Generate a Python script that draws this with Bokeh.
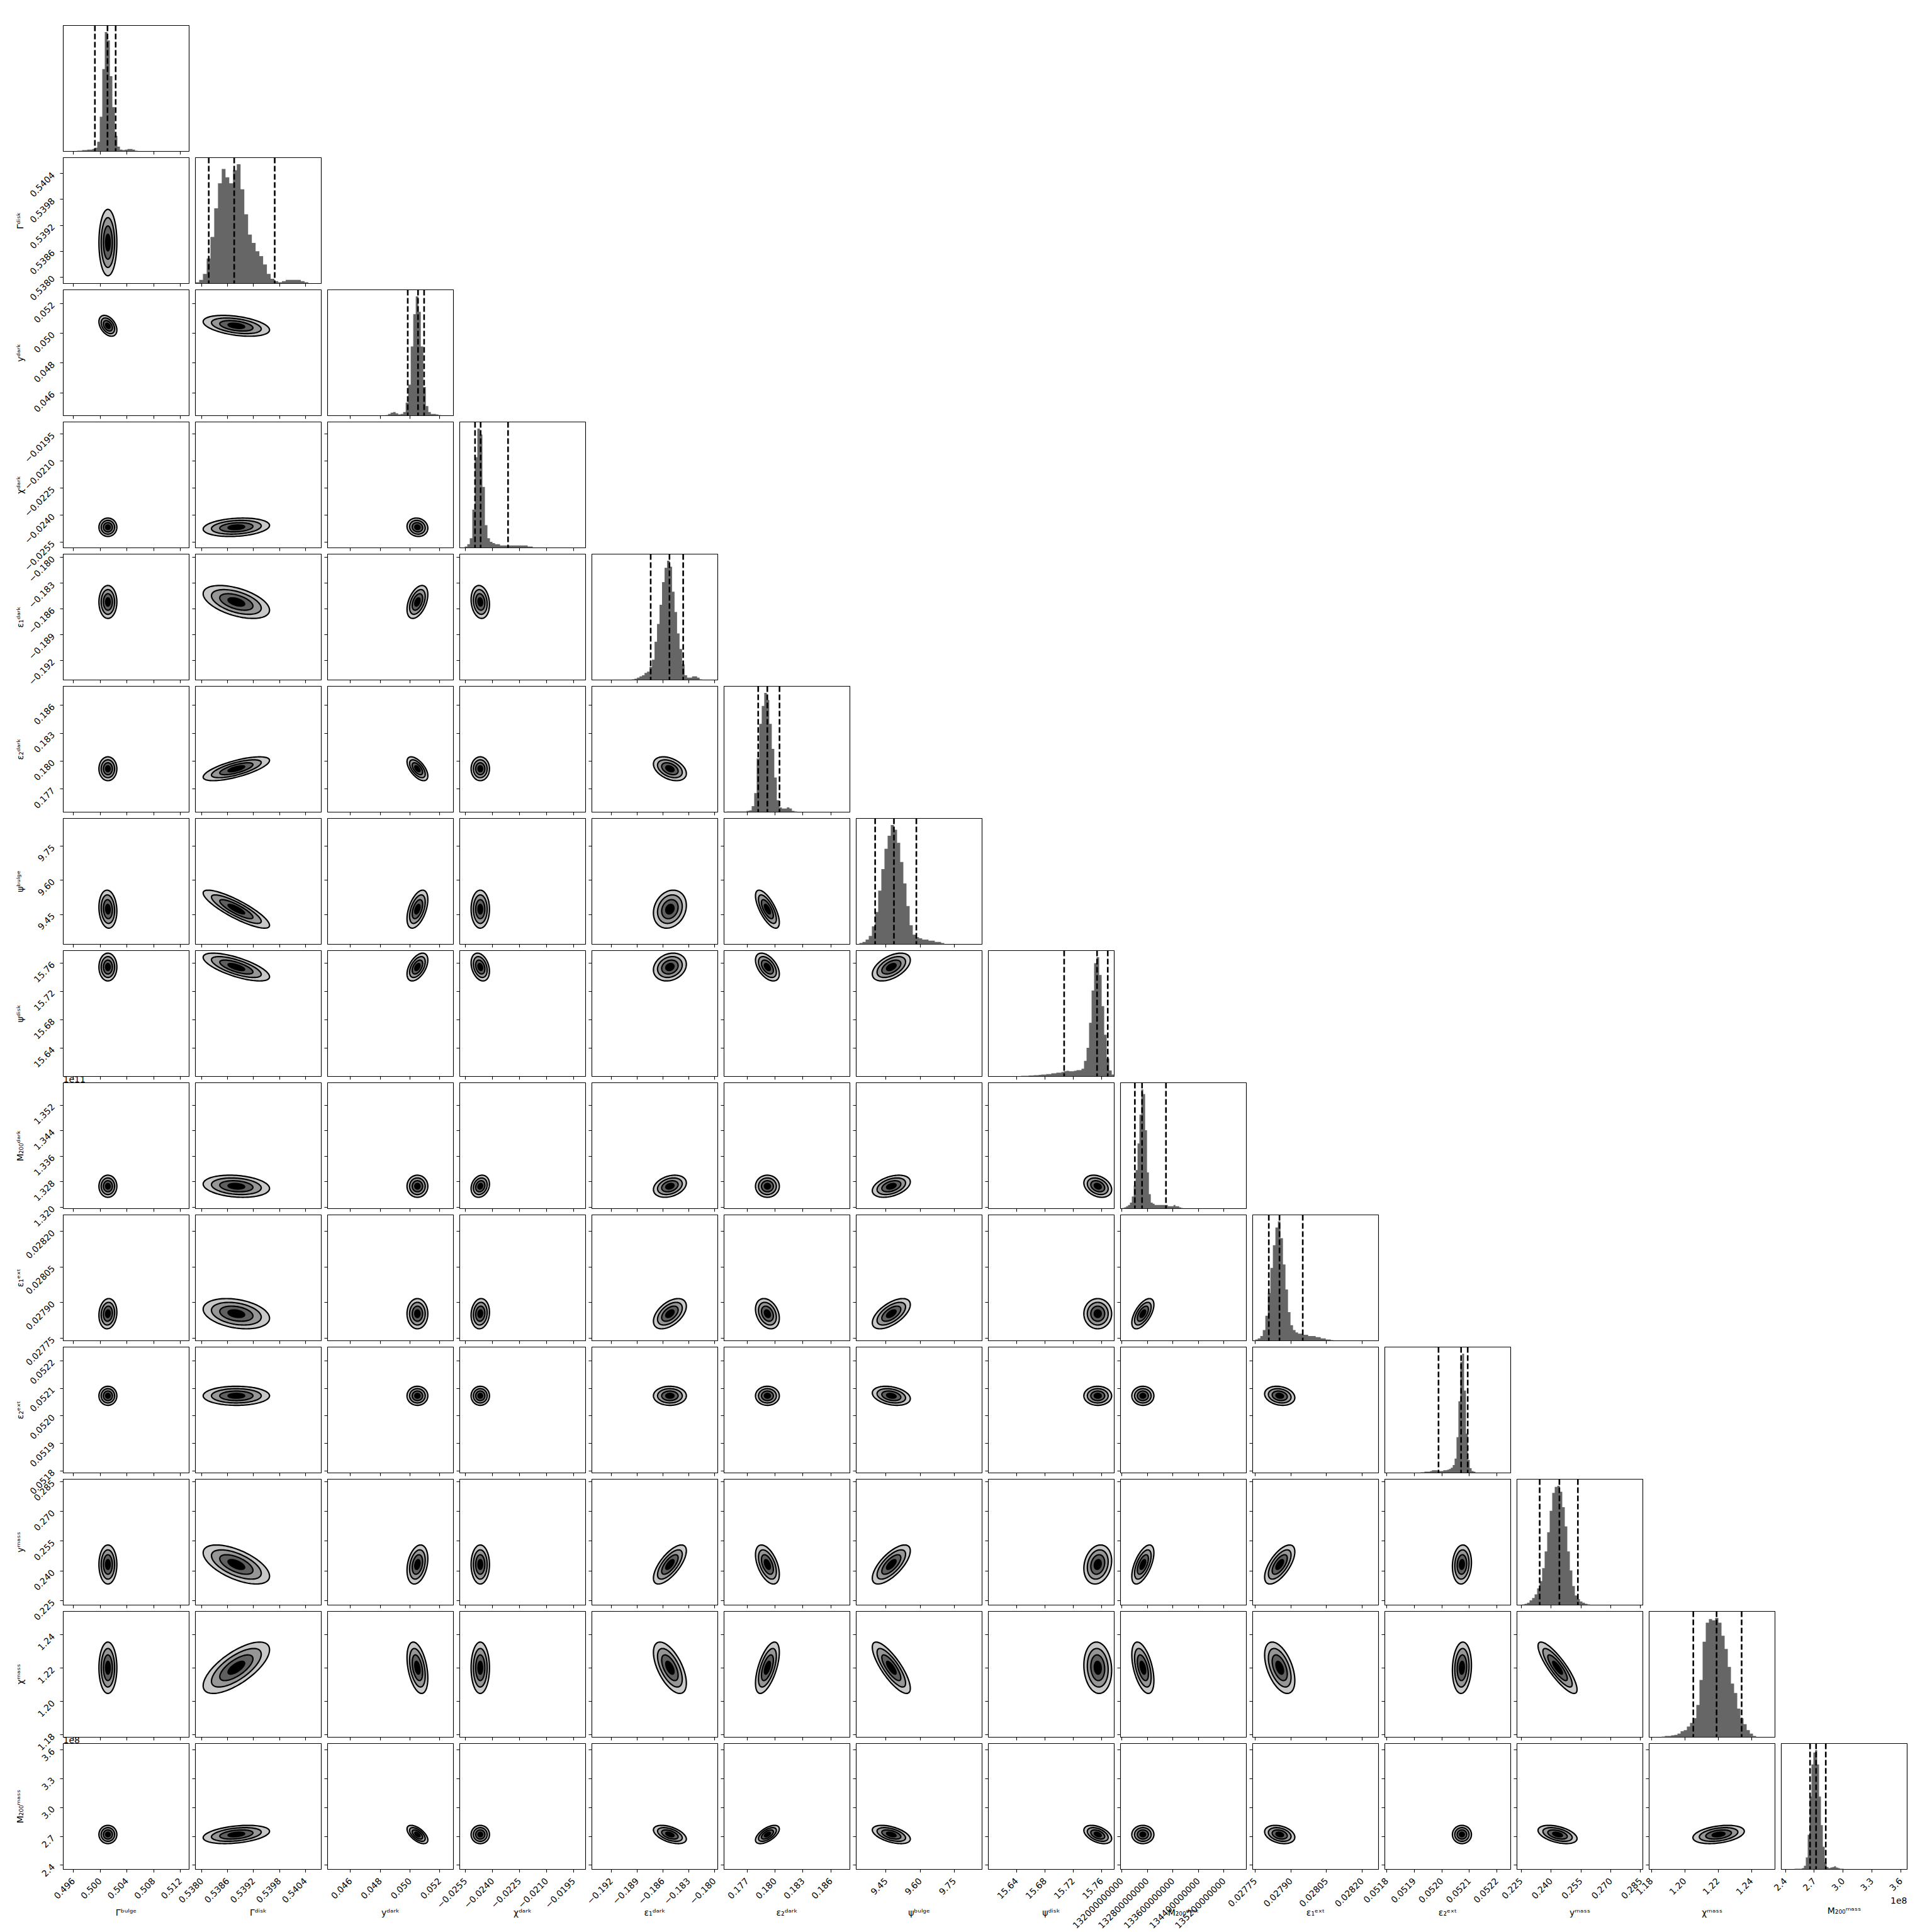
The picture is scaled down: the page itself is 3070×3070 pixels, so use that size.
import numpy as np
from bokeh.plotting import figure
from bokeh.models import FixedTicker, CustomJSTickFormatter, Span, Range1d, Title
from bokeh.embed import file_html
from bokeh.resources import INLINE

# ---------------- data ----------------
param_labels = ["Γᵇᵘˡᵍᵉ", "Γᵈⁱˢᵏ", "yᵈᵃʳᵏ", "χᵈᵃʳᵏ", "ε₁ᵈᵃʳᵏ", "ε₂ᵈᵃʳᵏ", "ψᵇᵘˡᵍᵉ",
                "ψᵈⁱˢᵏ", "M₂₀₀ᵈᵃʳᵏ", "ε₁ᵉˣᵗ", "ε₂ᵉˣᵗ", "yᵐᵃˢˢ", "χᵐᵃˢˢ", "M₂₀₀ᵐᵃˢˢ"]

range_lo = [0.4945, 0.53785, 0.04446, -0.02582, -0.19428, 0.17452, 9.3188,
            15.6002, 1.3196e11, 0.027739, 0.051793, 0.22291, 1.17864, 2.357e8]
range_hi = [0.5133, 0.54077, 0.05292, -0.01884, -0.17960, 0.18804, 9.8713,
            15.7777, 1.3590e11, 0.028269, 0.052250, 0.28614, 1.25411, 3.666e8]

tick_values = [
    [0.496, 0.500, 0.504, 0.508, 0.512],
    [0.5380, 0.5386, 0.5392, 0.5398, 0.5404],
    [0.046, 0.048, 0.050, 0.052],
    [-0.0255, -0.0240, -0.0225, -0.0210, -0.0195],
    [-0.192, -0.189, -0.186, -0.183, -0.180],
    [0.177, 0.180, 0.183, 0.186],
    [9.45, 9.60, 9.75],
    [15.64, 15.68, 15.72, 15.76],
    [1.320e11, 1.328e11, 1.336e11, 1.344e11, 1.352e11],
    [0.02775, 0.02790, 0.02805, 0.02820],
    [0.0518, 0.0519, 0.0520, 0.0521, 0.0522],
    [0.225, 0.240, 0.255, 0.270, 0.285],
    [1.18, 1.20, 1.22, 1.24],
    [2.4e8, 2.7e8, 3.0e8, 3.3e8, 3.6e8],
]
ytick_scale = [1, 1, 1, 1, 1, 1, 1, 1, 1e11, 1, 1, 1, 1, 1e8]
ytick_digits = [3, 4, 3, 4, 3, 3, 2, 2, 3, 5, 4, 3, 2, 1]
xtick_scale = [1, 1, 1, 1, 1, 1, 1, 1, 1, 1, 1, 1, 1, 1e8]
xtick_digits = [3, 4, 3, 4, 3, 3, 2, 2, 0, 5, 4, 3, 2, 1]

# 2-D contour summaries: centre, spread and pairwise tilt
centre = [0.50117, 0.53880, 0.05050, -0.02468, -0.18518, 0.17918, 9.473,
          15.7545, 1.3266e11, 0.027853, 0.052073, 0.2433, 1.2203, 2.720e8]
sigma = [0.00067, 0.000385, 0.00035, 0.000255, 0.00096, 0.00064, 0.0417,
         0.0098, 1.73e8, 0.0000318, 0.0000173, 0.0049, 0.0077, 4.75e6]
rho_rows = [
    [],
    [0.0],
    [-0.4, -0.4],
    [0.0, 0.2, -0.1],
    [0.0, -0.5, 0.45, -0.15],
    [0.0, 0.7, -0.6, 0.0, -0.4],
    [-0.1, -0.85, 0.5, 0.0, 0.2, -0.7],
    [0.0, -0.7, 0.5, -0.3, 0.2, -0.5, 0.5],
    [0.0, -0.2, 0.0, 0.2, 0.3, 0.0, 0.4, -0.3],
    [0.1, -0.3, 0.0, 0.1, 0.5, -0.3, 0.6, 0.0, 0.6],
    [0.0, 0.0, 0.0, 0.0, 0.0, 0.0, -0.3, 0.0, 0.0, -0.2],
    [0.0, -0.6, 0.3, 0.0, 0.7, -0.5, 0.7, 0.2, 0.6, 0.65, 0.1],
    [0.0, 0.7, -0.4, 0.0, -0.6, 0.6, -0.8, -0.1, -0.5, -0.5, 0.1, -0.85],
    [0.0, 0.35, -0.6, 0.0, -0.5, 0.6, -0.5, -0.45, 0.0, -0.3, 0.0, -0.45, 0.35],
]

# 1-D marginal histograms (first bin edge, bin width, relative heights)
hist_start = [0.49657, 0.53785, 0.04836, -0.02554, -0.18960, 0.17479, 9.33261,
              15.6393, 1.32019e11, 0.027750, 0.051923, 0.22544, 1.18619, 2.4944e8]
hist_step = [0.000376, 0.0000873, 0.000169, 0.0001396, 0.000292, 0.00027, 0.0138,
             0.00355, 5.93e7, 0.0000106, 0.00000686, 0.0012646, 0.0018868, 1.9635e6]
hist_heights = [
    [0.5, 0.5, 1, 1, 1.5, 1.5, 2, 3, 8, 29, 69, 100, 93, 63, 37, 13, 4, 1.5, 1, 1.5, 2, 2, 1.5, 0.5],
    [1, 3, 8, 21, 39, 63, 84, 96, 89, 84, 95, 100, 79, 58, 41, 34, 27, 23, 16, 8, 4, 2, 1, 2, 3, 3, 3, 3, 2, 1],
    [0.5, 1.5, 2.5, 3, 2, 1, 1.5, 3, 11, 26, 58, 85, 100, 87, 58, 24, 8, 3, 1.5, 1.5, 1, 0.5],
    [1, 3, 8, 32, 76, 100, 95, 51, 19, 8, 5, 4, 3, 3, 2, 2, 2, 2, 2, 2, 2, 2, 2, 2, 2, 1, 1],
    [0.5, 1, 2, 3, 4, 6, 7, 11, 17, 32, 47, 63, 82, 94, 100, 95, 74, 57, 39, 26, 13, 4, 2, 2, 3, 3, 2, 0.5],
    [0.5, 0.5, 0.5, 0.5, 0.5, 0.5, 0.5, 0.5, 1, 1.5, 5, 16, 45, 74, 89, 100, 94, 74, 53, 29, 10, 4, 3, 3, 4, 3, 1, 0.5],
    [1, 2, 4, 7, 15, 27, 45, 63, 80, 91, 100, 96, 85, 69, 51, 32, 16, 8, 6, 5, 4, 4, 3, 3, 2, 2, 1],
    [0.3, 0.3, 0.5, 0.5, 0.5, 0.8, 0.8, 1, 1, 1.3, 1.6, 1.6, 2, 2, 2.7, 2.7, 3.2, 3.2, 3.7,
     4.3, 4.8, 4.3, 4.3, 4.8, 5.3, 5.3, 6.4, 13, 24, 45, 72, 95, 100, 85, 59, 35, 15, 5, 1.6],
    [0.5, 1, 2, 3, 5, 10, 19, 32, 54, 78, 99, 95, 65, 30, 12, 5, 4, 3, 3, 3, 3, 3, 3, 3, 2, 2, 2, 3, 2, 2, 1, 0.5],
    [1, 2, 4, 9, 21, 40, 61, 80, 95, 100, 86, 64, 43, 24, 13, 9, 7, 6, 6, 5, 5, 4, 4, 4, 3, 3, 2, 2, 1, 1, 0.5],
    [0.5, 0.5, 1, 1, 1, 1.6, 2.2, 2.2, 2.2, 1.6, 1.6, 1.6, 2.2, 2.2, 2.7, 3.3, 4.4, 6.6, 12, 30, 60, 93, 100, 69, 33, 11, 4, 1.6, 1],
    [0.5, 1, 2, 4, 6, 9, 14, 20, 31, 45, 61, 79, 94, 99, 100, 95, 82, 66, 45, 29, 16, 8, 5, 3, 2, 1, 0.5],
    [0.5, 1, 1, 1.6, 2, 3, 5, 6, 9, 12, 16, 27, 48, 80, 96, 99, 98, 100, 96, 85, 74, 59, 45, 37, 24, 16, 11, 6, 3, 1],
    [0.5, 0.5, 0.5, 0.5, 1, 3, 10, 29, 61, 88, 98, 100, 88, 61, 37, 19, 6, 2, 1, 1.6, 2, 2.7, 1.6, 1, 0.5, 0.5],
]

# quantile markers (dashed lines)
q_low = [0.49923, 0.53816, 0.04985, -0.02497, -0.18742, 0.17819, 9.4020,
         15.7071, 1.32410e11, 0.027807, 0.051988, 0.23432, 1.20513, 2.6561e8]
q_med = [0.50111, 0.53875, 0.05054, -0.02466, -0.18523, 0.17917, 9.4846,
         15.7535, 1.32635e11, 0.027852, 0.052070, 0.24422, 1.21909, 2.7189e8]
q_high = [0.50233, 0.53969, 0.05095, -0.02314, -0.18363, 0.18048, 9.5829,
          15.7686, 1.33384e11, 0.027950, 0.052094, 0.25351, 1.23411, 2.8197e8]

# ---------------- styling / layout ----------------
N = len(param_labels)
FRAME = 200
STEP = 210              # frame pitch (200 px frame + 10 px gap)
ORIGIN_X, ORIGIN_Y = 100, 40
FONT = "DejaVu Sans"
TICK_PX = 14
LABEL_PX = 14
TICK_LEN = 5
TICK_STANDOFF = 11
HIST_COLOR = "#666666"
contour_radii = [2.0, 1.5, 1.0, 0.5]
contour_fill = ["#c8c8c8", "#969696", "#5f5f5f", "#000000"]
MINUS = "\u2212"
LABEL_GAP = 62          # distance of axis titles from the frame (px)
CHAR_EM = {".": 0.318, MINUS: 0.838}


def fmt(s, d):
    return CustomJSTickFormatter(
        args=dict(s=s, d=d),
        code="return (tick / s).toFixed(d).replace('-', '%s');" % MINUS)


def label_strings(k, s, d):
    return [("%.*f" % (d, t / s)).replace("-", MINUS) for t in tick_values[k]]


def rotated_extent(strings):
    w = max(sum(CHAR_EM.get(c, 0.636) for c in st) for st in strings) * TICK_PX
    return 0.7071 * (w + 1.17 * TICK_PX)


def style_axis(ax, k, show, s=1, d=3, title=None):
    ax.ticker = FixedTicker(ticks=tick_values[k])
    ax.axis_line_color = None
    ax.major_tick_out = TICK_LEN
    ax.major_tick_in = 0
    ax.minor_tick_out = 0
    ax.minor_tick_in = 0
    ax.major_tick_line_color = "black"
    ax.major_tick_line_width = 1.1
    ax.major_label_orientation = np.pi / 4
    ax.formatter = fmt(s, d)
    ax.major_label_text_font = FONT
    ax.major_label_text_color = "black"
    if show:
        ax.major_label_text_font_size = "%dpx" % TICK_PX
        ax.major_label_standoff = TICK_STANDOFF
    else:
        # inner panels: tick labels exist but are not displayed
        ax.major_label_text_font_size = "0px"
        ax.major_label_standoff = 0
    if title is not None:
        ext = rotated_extent(label_strings(k, s, d))
        ax.axis_label = title
        ax.axis_label_text_font = FONT
        ax.axis_label_text_font_size = "%dpx" % LABEL_PX
        ax.axis_label_text_font_style = "normal"
        ax.axis_label_text_color = "black"
        ax.axis_label_standoff = int(round(LABEL_GAP - TICK_LEN - TICK_STANDOFF - ext))
    return ax


def text_title(text, align, standoff, size):
    return Title(text=text, align=align, standoff=standoff, text_font=FONT,
                 text_font_size="%dpx" % size, text_font_style="normal",
                 text_color="black")


theta = np.linspace(0, 2 * np.pi, 120)

figs = []
for i in range(N):
    for j in range(i + 1):
        # generous transparent borders so that tick labels may overlap neighbours
        L = 100 if j == 0 else 80
        R = 10
        T = 40 if i == 0 else 22
        B = 100 if i == N - 1 else 60
        diag = (i == j)
        p = figure(width=L + FRAME + R, height=T + FRAME + B,
                   output_backend="svg", toolbar_location=None, tools="",
                   title=None,
                   x_range=Range1d(range_lo[j], range_hi[j]),
                   y_range=Range1d(0, 1.055) if diag else Range1d(range_lo[i], range_hi[i]),
                   y_axis_location=None if diag else "left",
                   min_border_left=L, min_border_right=R,
                   min_border_top=T, min_border_bottom=B)
        p.styles = {"position": "absolute",
                    "left": "%dpx" % (ORIGIN_X + STEP * j - L),
                    "top": "%dpx" % (ORIGIN_Y + STEP * i - T)}
        p.grid.visible = False
        p.outline_line_color = "black"
        p.outline_line_width = 1.1
        p.background_fill_color = "white"
        p.border_fill_alpha = 0.0

        bottom_title = param_labels[j] if (i == N - 1 and xtick_scale[j] == 1) else None
        style_axis(p.xaxis[0], j, i == N - 1, xtick_scale[j], xtick_digits[j], title=bottom_title)
        if not diag:
            style_axis(p.yaxis[0], i, j == 0, ytick_scale[i], ytick_digits[i],
                       title=param_labels[i] if j == 0 else None)

        if diag:
            h = np.array(hist_heights[i], dtype=float)
            h = h / h.max()
            edges = hist_start[i] + hist_step[i] * np.arange(len(h) + 1)
            p.varea_step(x=edges, y1=np.zeros(len(h) + 1), y2=np.append(h, 0.0),
                         step_mode="after", fill_color=HIST_COLOR)
            for q in (q_low[i], q_med[i], q_high[i]):
                p.add_layout(Span(location=q, dimension="height", line_color="black",
                                  line_width=2.6, line_dash="9 4"))
        else:
            r = rho_rows[i][j]
            cx, cy, sx, sy = centre[j], centre[i], sigma[j], sigma[i]
            xs, ys = [], []
            for rad in contour_radii:
                xs.append(cx + rad * sx * np.cos(theta))
                ys.append(cy + rad * sy * (r * np.cos(theta) + np.sqrt(1 - r * r) * np.sin(theta)))
            p.patches(xs=xs, ys=ys, fill_color=contour_fill, line_color="black", line_width=2.2)

        # multiplier text of a y axis, shown above the frame
        if j == 0 and i > 0 and ytick_scale[i] != 1:
            exp = int(round(np.log10(ytick_scale[i])))
            p.add_layout(text_title("1e%d" % exp, "left", 2, TICK_PX), "above")
        # multiplier text of an x axis under its tick labels, then the axis title
        if i == N - 1 and xtick_scale[j] != 1:
            exp = int(round(np.log10(xtick_scale[j])))
            ext = rotated_extent(label_strings(j, xtick_scale[j], xtick_digits[j]))
            p.add_layout(text_title("1e%d" % exp, "right", 0, TICK_PX), "below")
            used = TICK_LEN + TICK_STANDOFF + ext + 1.17 * TICK_PX
            p.add_layout(text_title(param_labels[j], "center",
                                    max(0, int(round(LABEL_GAP - used))), LABEL_PX), "below")
        figs.append(p)

open("out.html", "w").write(file_html(figs, INLINE))
